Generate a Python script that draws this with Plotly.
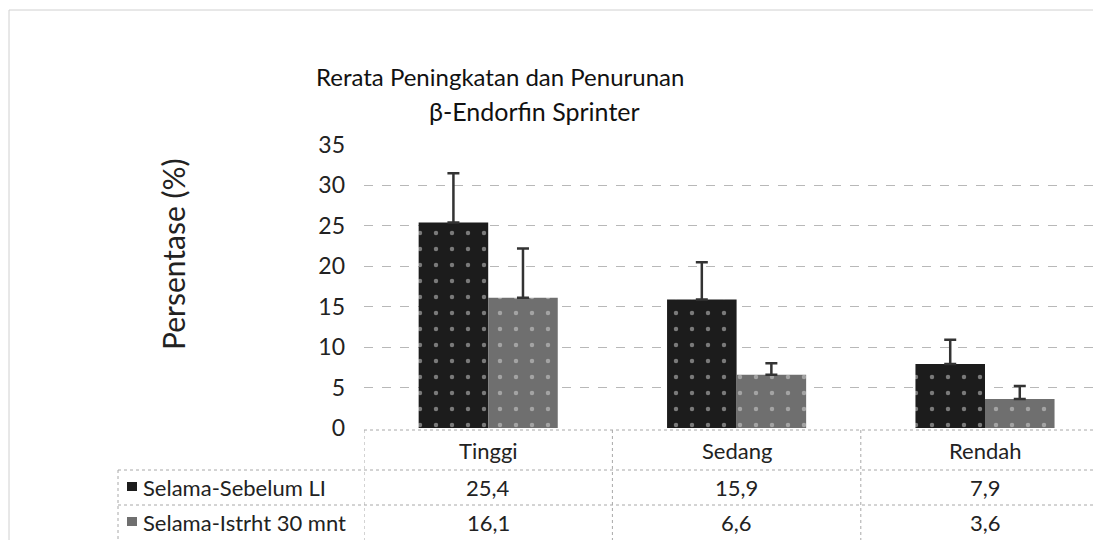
import plotly.graph_objects as go

categories = ["Tinggi", "Sedang", "Rendah"]
series_names = ["Selama-Sebelum LI", "Selama-Istrht 30 mnt"]
sebelum = [25.4, 15.9, 7.9]
istirahat = [16.1, 6.6, 3.6]
err_sebelum = [6.1, 4.6, 3.0]
err_istirahat = [6.1, 1.4, 1.6]
y_ticks = [0, 5, 10, 15, 20, 25, 30, 35]

FONT = "Lato, 'Open Sans', sans-serif"
colors = ["#1c1c1c", "#6f6f6f"]

fig = go.Figure()
for name, vals, errs, col in [
    (series_names[0], sebelum, err_sebelum, colors[0]),
    (series_names[1], istirahat, err_istirahat, colors[1]),
]:
    fig.add_trace(go.Bar(
        x=categories, y=vals, name=name,
        marker=dict(color=col, line=dict(width=0),
                    pattern=dict(shape=".", fgcolor="#d8d8d8", size=16, solidity=0.06)),
        error_y=dict(type="data", symmetric=False, array=errs,
                     arrayminus=[0] * len(errs), color="#333333",
                     thickness=2.5, width=6),
    ))

# page has an 8px body margin: figure sized so it fits the window exactly
fig.update_layout(
    width=1093, height=532,
    margin=dict(l=356, r=0, t=137, b=112),
    paper_bgcolor="white", plot_bgcolor="white",
    showlegend=False,
    barmode="group", bargap=0.44, bargroupgap=0,
    font=dict(family=FONT, color="#222222"),
)
fig.update_xaxes(range=[-0.5, 2.467], showticklabels=False, showgrid=False,
                 zeroline=False, showline=False, ticks="")
fig.update_yaxes(range=[0, 35], tickvals=y_ticks, showgrid=True,
                 gridcolor="#b8b8b8", griddash="dash", gridwidth=1,
                 zeroline=False, showline=False,
                 tickfont=dict(size=23, color="#222222", family=FONT),
                 ticklabelstandoff=18)

def py(pix):
    return (428 - pix) / 283

def px(pix):
    return (pix - 364) / 737

# y-axis title
fig.add_annotation(text="Persentase (%)", xref="paper", yref="paper",
                   x=px(173), y=py(254), xanchor="center", yanchor="middle",
                   textangle=-90, showarrow=False,
                   font=dict(size=30, family=FONT, color="#222222"))

# title
fig.add_annotation(text="Rerata Peningkatan dan Penurunan", xref="paper", yref="paper",
                   x=px(500), y=py(76), xanchor="center", yanchor="middle",
                   showarrow=False, font=dict(size=24, family=FONT, color="#111111"))
fig.add_annotation(text="β-Endorfin Sprinter", xref="paper", yref="paper",
                   x=px(534), y=py(111), xanchor="center", yanchor="middle",
                   showarrow=False, font=dict(size=25, family=FONT, color="#111111"))

line_style = dict(color="#a8a8a8", width=1, dash="dot")

# table horizontal lines
fig.add_shape(type="line", xref="paper", yref="paper", x0=0, x1=1.0, y0=py(430), y1=py(430), line=line_style)
for yy in [470, 505]:
    fig.add_shape(type="line", xref="paper", yref="paper", x0=px(118), x1=1.0, y0=py(yy), y1=py(yy), line=line_style)
# vertical lines
fig.add_shape(type="line", xref="paper", yref="paper", x0=px(118), x1=px(118), y0=py(470), y1=py(540), line=line_style)
for xv in [-0.5, 0.5, 1.5]:
    fig.add_shape(type="line", xref="x", yref="paper", x0=xv, x1=xv, y0=py(430), y1=py(540), line=line_style)

# faint frame
fig.add_shape(type="line", xref="paper", yref="paper", x0=px(9), x1=1.0, y0=py(10), y1=py(10),
              line=dict(color="#d0d0d0", width=1))
fig.add_shape(type="line", xref="paper", yref="paper", x0=px(9), x1=px(9), y0=py(10), y1=py(540),
              line=dict(color="#d0d0d0", width=1))

# header row & values
for i, cat in enumerate(categories):
    fig.add_annotation(text=cat, xref="x", yref="paper", x=i, y=py(450), showarrow=False,
                       xanchor="center", yanchor="middle", font=dict(size=22, family=FONT, color="#222222"))
    for vals, yy in [(sebelum, 487), (istirahat, 522)]:
        fig.add_annotation(text=f"{vals[i]:.1f}".replace(".", ","), xref="x", yref="paper",
                           x=i, y=py(yy), showarrow=False, xanchor="center", yanchor="middle",
                           font=dict(size=22, family=FONT, color="#222222"))

# row labels with keys
for name, col, yy in [(series_names[0], colors[0], 487), (series_names[1], colors[1], 522)]:
    fig.add_shape(type="rect", xref="paper", yref="paper", x0=px(127), x1=px(137),
                  y0=py(yy - 5), y1=py(yy + 4), fillcolor=col, line=dict(width=0))
    fig.add_annotation(text=name, xref="paper", yref="paper", x=px(141), y=py(yy),
                       xanchor="left", yanchor="middle", showarrow=False,
                       font=dict(size=22, family=FONT, color="#222222"))

fig.write_html("out.html")
